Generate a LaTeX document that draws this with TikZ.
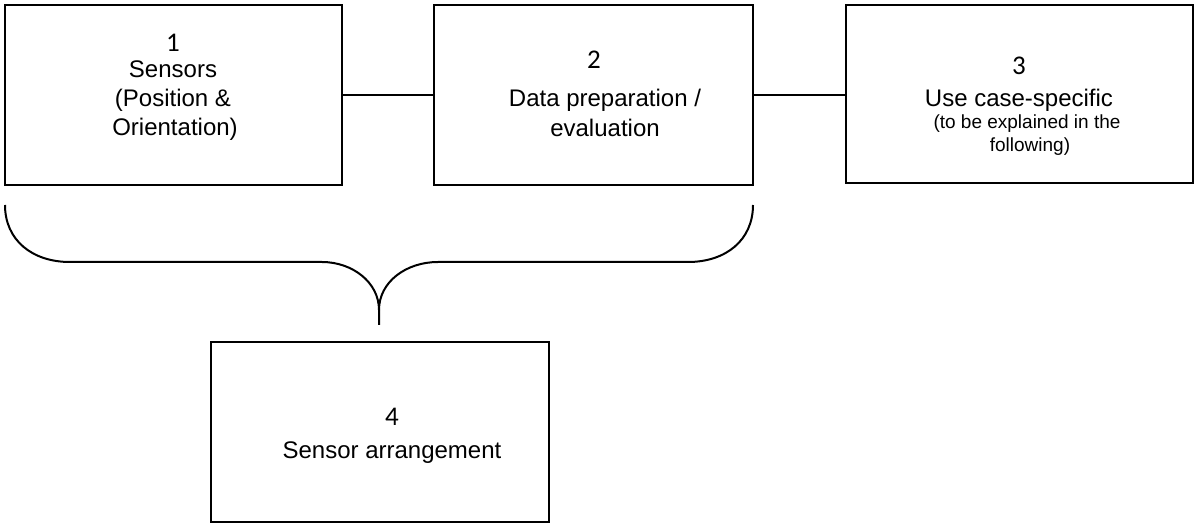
\documentclass[tikz,border=0pt]{standalone}
\usepackage{fontspec}
\setmainfont{Liberation Sans}
\newfontfamily\numfont{Carlito}
\begin{document}
\begin{tikzpicture}[x=1pt,y=-1pt,
  box/.style={draw,line width=1.6pt,inner sep=0pt,outer sep=0pt},
  num/.style={anchor=base,inner sep=0pt,font=\numfont\fontsize{27}{30}\selectfont},
  txt/.style={anchor=base,inner sep=0pt,font=\fontsize{24}{29}\selectfont},
  small/.style={anchor=base,inner sep=0pt,font=\fontsize{19}{23}\selectfont},
  link/.style={line width=1.6pt},
  brace/.style={line width=2pt}]
\useasboundingbox (0,0) rectangle (1200,529);
% boxes
\node[box,minimum width=337pt,minimum height=180pt] (b1) at (173.5,95) {};
\node[box,minimum width=319pt,minimum height=180pt] (b2) at (593.5,95) {};
\node[box,minimum width=347pt,minimum height=178pt] (b3) at (1019.5,94) {};
\node[box,minimum width=338pt,minimum height=180pt] (b4) at (380,432) {};
% texts
\node[num] (n1) at (173,52) {1};
\node[txt] (t1a) at (173,78) {Sensors};
\node[txt] (t1b) at (173,107) {(Position \&};
\node[txt] (t1c) at (175,136) {Orientation)};
\node[num] (n2) at (594,69) {2};
\node[txt] (t2a) at (605,107) {Data preparation /};
\node[txt] (t2b) at (605,137) {evaluation};
\node[num] (n3) at (1019,75) {3};
\node[txt] (t3a) at (1019,107) {Use case-specific};
\node[small] (t3b) at (1027,129) {(to be explained in the};
\node[small] (t3c) at (1030,152) {following)};
\node[num] (n4) at (392,425) {4};
\node[txt] (t4a) at (392,458) {Sensor arrangement};
% connectors
\draw[link] (b1.east) -- (b2.west);
\draw[link] (b2.east) -- (b2.east -| b3.west);
% brace
\coordinate (bl) at (5,205);
\coordinate (br) at (753,205);
\coordinate (tip) at (379,310);
\coordinate (tipend) at (379,325);
\draw[brace] (bl) .. controls (5,240) and (32,262) .. (70,262) -- (322,262)
  .. controls (352,262) and (379,282) .. (tip) -- (tipend);
\draw[brace] (br) .. controls (753,240) and (726,262) .. (688,262) -- (438,262)
  .. controls (406,262) and (379,282) .. (tip);
\end{tikzpicture}
\end{document}
